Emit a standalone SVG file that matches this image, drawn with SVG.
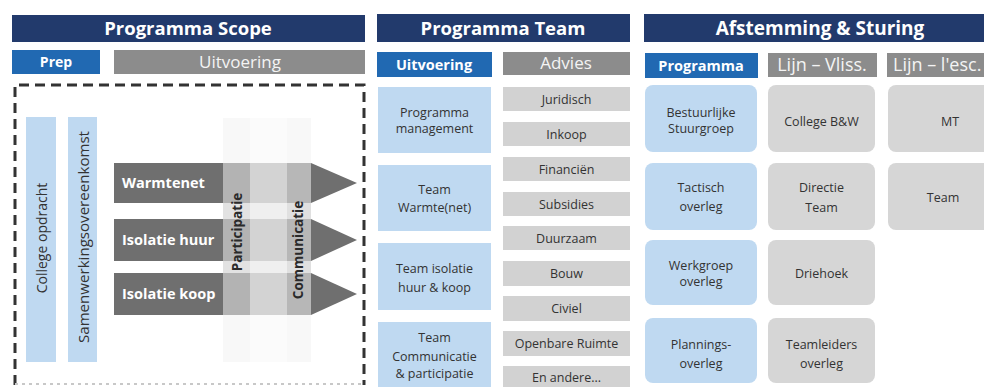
<svg xmlns="http://www.w3.org/2000/svg" width="984" height="387" viewBox="0 0 984 387">
<style>
text{font-family:"Open Sans","Noto Sans","Liberation Sans",sans-serif}
.hdr{fill:#223a6c}
.hdrt{fill:#fff;font-weight:700;font-size:18.5px;text-anchor:middle}
.lblb{fill:#2169b2}
.lblg{fill:#8c8c8c}
.lbt{fill:#fff;font-weight:700;font-size:14px;text-anchor:middle}
.lgt{fill:#f4f4f4;font-size:17px;text-anchor:middle}
.lb{fill:#bfd9f1}
.gb{fill:#d2d2d2}
.gr{fill:#d6d6d6}
.bt{fill:#333;font-size:12.5px;text-anchor:middle}
.vt{fill:#333;font-size:14px;text-anchor:middle}
.at{fill:#fff;font-weight:700;font-size:14.5px}
.ark{fill:#6f6f6f}
.bandt{fill:#2a2a2a;font-weight:700;font-size:13.5px;text-anchor:middle}
</style>

<rect width="984" height="387" fill="#fff"/>

<!-- Section 1: Programma Scope -->
<g id="hdr-scope"><rect class="hdr" x="12" y="15" width="353" height="27"/><text class="hdrt" x="188" y="35">Programma Scope</text></g>
<g id="lbl-prep"><rect class="lblb" x="12" y="50" width="88" height="24"/><text class="lbt" x="56" y="67">Prep</text></g>
<g id="lbl-uitvoering1"><rect class="lblg" x="114" y="50" width="251" height="24"/><text class="lgt" x="240" y="68">Uitvoering</text></g>

<g id="scope-frame">
<path d="M15,385 V85 H364 V385" fill="none" stroke="#333" stroke-width="3" stroke-dasharray="10 6"/>
<path d="M15,384 H364" fill="none" stroke="#c8c8c8" stroke-width="2" stroke-dasharray="3 4"/>
</g>

<g id="bar-college"><rect class="lb" x="26" y="117" width="30" height="245"/><text class="vt" transform="translate(41,238) rotate(-90)" dominant-baseline="central">College opdracht</text></g>
<g id="bar-samenwerking"><rect class="lb" x="68" y="117" width="29" height="245"/><text class="vt" transform="translate(83,237) rotate(-90)" dominant-baseline="central" textLength="212" lengthAdjust="spacingAndGlyphs">Samenwerkingsovereenkomst</text></g>

<!-- faint band columns -->
<g id="bands-bg">
<rect x="223" y="118" width="27" height="244" fill="#f8f8f8"/>
<rect x="250" y="118" width="37" height="244" fill="#fbfbfb"/>
<rect x="287" y="118" width="24" height="244" fill="#f8f8f8"/>
<rect x="223" y="163" width="27" height="152" fill="#e2e2e2"/>
<rect x="250" y="163" width="37" height="152" fill="#efefef"/>
<rect x="287" y="163" width="24" height="152" fill="#e0e0e0"/>
</g>

<g id="arrow-warmtenet">
<rect class="ark" x="114" y="163" width="109" height="40"/>
<rect x="223" y="163" width="27" height="40" fill="#b3b3b3"/>
<rect x="250" y="163" width="37" height="40" fill="#d3d3d3"/>
<rect x="287" y="163" width="24" height="40" fill="#b7b7b7"/>
<polygon class="ark" points="311,163 357,183 311,203"/>
<text class="at" x="122" y="188">Warmtenet</text>
</g>
<g id="arrow-isolatie-huur">
<rect class="ark" x="114" y="219" width="109" height="42"/>
<rect x="223" y="219" width="27" height="42" fill="#b3b3b3"/>
<rect x="250" y="219" width="37" height="42" fill="#d3d3d3"/>
<rect x="287" y="219" width="24" height="42" fill="#b7b7b7"/>
<polygon class="ark" points="311,219 357,240 311,261"/>
<text class="at" x="122" y="245">Isolatie huur</text>
</g>
<g id="arrow-isolatie-koop">
<rect class="ark" x="114" y="273" width="109" height="42"/>
<rect x="223" y="273" width="27" height="42" fill="#b3b3b3"/>
<rect x="250" y="273" width="37" height="42" fill="#d3d3d3"/>
<rect x="287" y="273" width="24" height="42" fill="#b7b7b7"/>
<polygon class="ark" points="311,273 357,294 311,315"/>
<text class="at" x="122" y="299">Isolatie koop</text>
</g>
<g id="band-participatie"><text class="bandt" transform="translate(237,232) rotate(-90)" dominant-baseline="central">Participatie</text></g>
<g id="band-communicatie"><text class="bandt" transform="translate(298,250) rotate(-90)" dominant-baseline="central">Communicatie</text></g>

<!-- Section 2: Programma Team -->
<g id="hdr-team"><rect class="hdr" x="377" y="14" width="253" height="28"/><text class="hdrt" x="503" y="35">Programma Team</text></g>
<g id="lbl-uitvoering2"><rect class="lblb" x="377" y="52" width="115" height="25"/><text class="lbt" x="434" y="69.5" style="font-size:14.5px">Uitvoering</text></g>
<g id="lbl-advies"><rect class="lblg" x="503" y="52" width="127" height="23"/><text class="lgt" x="566" y="69">Advies</text></g>

<g id="team-pm"><rect class="lb" x="378" y="87" width="113" height="66"/><text class="bt" x="434.5" y="116.5">Programma</text><text class="bt" x="434.5" y="132.5">management</text></g>
<g id="team-warmte"><rect class="lb" x="378" y="165" width="113" height="66"/><text class="bt" x="434.5" y="194">Team</text><text class="bt" x="434.5" y="212">Warmte(net)</text></g>
<g id="team-isolatie"><rect class="lb" x="378" y="243" width="113" height="67"/><text class="bt" x="434.5" y="273">Team isolatie</text><text class="bt" x="434.5" y="292">huur &amp; koop</text></g>
<g id="team-communicatie"><rect class="lb" x="378" y="322" width="113" height="67"/><text class="bt" x="434.5" y="342">Team</text><text class="bt" x="434.5" y="361">Communicatie</text><text class="bt" x="434.5" y="378">&amp; participatie</text></g>

<g id="adv-juridisch"><rect class="gb" x="503" y="87" width="127" height="24"/><text class="bt" x="566.5" y="103.5">Juridisch</text></g>
<g id="adv-inkoop"><rect class="gb" x="503" y="122" width="127" height="24"/><text class="bt" x="566.5" y="138.5">Inkoop</text></g>
<g id="adv-financien"><rect class="gb" x="503" y="157" width="127" height="24"/><text class="bt" x="566.5" y="173.5">Financiën</text></g>
<g id="adv-subsidies"><rect class="gb" x="503" y="192" width="127" height="24"/><text class="bt" x="566.5" y="208.5">Subsidies</text></g>
<g id="adv-duurzaam"><rect class="gb" x="503" y="226" width="127" height="24"/><text class="bt" x="566.5" y="242.5">Duurzaam</text></g>
<g id="adv-bouw"><rect class="gb" x="503" y="261" width="127" height="25"/><text class="bt" x="566.5" y="278">Bouw</text></g>
<g id="adv-civiel"><rect class="gb" x="503" y="296" width="127" height="25"/><text class="bt" x="566.5" y="313">Civiel</text></g>
<g id="adv-openbare"><rect class="gb" x="503" y="331" width="127" height="25"/><text class="bt" x="566.5" y="348">Openbare Ruimte</text></g>
<g id="adv-andere"><rect class="gb" x="503" y="366" width="127" height="25"/><text class="bt" x="566.5" y="382">En andere...</text></g>

<!-- Section 3: Afstemming & Sturing -->
<g id="hdr-afstemming"><rect class="hdr" x="644" y="14" width="346" height="28"/><text class="hdrt" x="820" y="35" style="font-size:19px">Afstemming &amp; Sturing</text></g>
<g id="lbl-programma"><rect class="lblb" x="645" y="53" width="113" height="25"/><text class="lbt" x="701" y="71" style="font-size:14.5px">Programma</text></g>
<g id="lbl-vliss"><rect class="lblg" x="768" y="53" width="109" height="24"/><text class="lgt" x="822" y="71" style="font-size:18px">Lijn – Vliss.</text></g>
<g id="lbl-lesc"><rect class="lblg" x="887" y="53" width="103" height="24"/><text class="lgt" x="893" y="71" style="font-size:18px;text-anchor:start">Lijn – l'esc.</text></g>

<g id="st-stuurgroep"><rect class="lb" x="645" y="85" width="112" height="67" rx="8"/><text class="bt" x="701" y="116.5">Bestuurlijke</text><text class="bt" x="701" y="132.5">Stuurgroep</text></g>
<g id="st-tactisch"><rect class="lb" x="645" y="163" width="112" height="67" rx="8"/><text class="bt" x="701" y="191.5">Tactisch</text><text class="bt" x="701" y="210.5">overleg</text></g>
<g id="st-werkgroep"><rect class="lb" x="645" y="240" width="112" height="65" rx="8"/><text class="bt" x="701" y="269.5">Werkgroep</text><text class="bt" x="701" y="285.5">overleg</text></g>
<g id="st-plannings"><rect class="lb" x="645" y="318" width="112" height="65" rx="8"/><text class="bt" x="701" y="348.5">Plannings-</text><text class="bt" x="701" y="367.5">overleg</text></g>

<g id="vl-college"><rect class="gr" x="768" y="85" width="107" height="67" rx="8"/><text class="bt" x="821.5" y="125.5">College B&amp;W</text></g>
<g id="vl-directie"><rect class="gr" x="768" y="163" width="107" height="67" rx="8"/><text class="bt" x="821.5" y="191.5">Directie</text><text class="bt" x="821.5" y="211.5">Team</text></g>
<g id="vl-driehoek"><rect class="gr" x="768" y="240" width="107" height="65" rx="8"/><text class="bt" x="821.5" y="277.5">Driehoek</text></g>
<g id="vl-teamleiders"><rect class="gr" x="768" y="318" width="107" height="65" rx="8"/><text class="bt" x="821.5" y="348.5">Teamleiders</text><text class="bt" x="821.5" y="367.5">overleg</text></g>

<g id="le-mt"><rect class="gr" x="888" y="85" width="110" height="67" rx="8"/><text class="bt" x="950" y="125.5">MT</text></g>
<g id="le-team"><rect class="gr" x="888" y="163" width="110" height="67" rx="8"/><text class="bt" x="943" y="201.5">Team</text></g>

<g id="connectors"></g>
</svg>
